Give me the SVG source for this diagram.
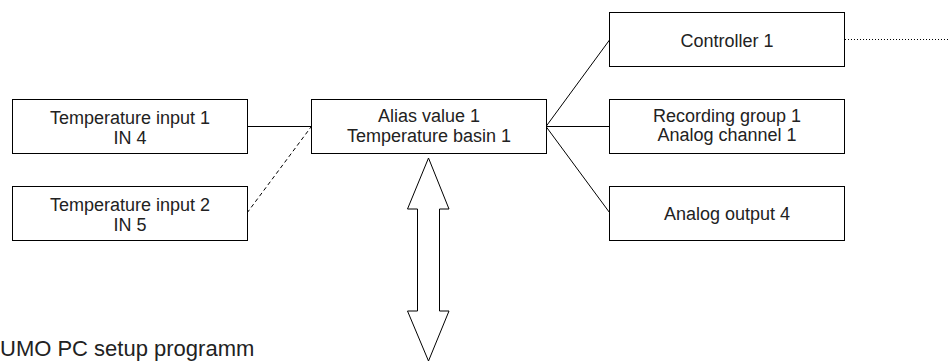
<svg xmlns="http://www.w3.org/2000/svg" width="949" height="363" viewBox="0 0 949 363">
<style>
.box{fill:#fff;stroke:#000;stroke-width:1}
.t{font-family:"Liberation Sans",Arial,sans-serif;font-size:18px;fill:#222;text-anchor:middle}
.c{stroke:#000;stroke-width:1;fill:none}
</style>
<rect width="949" height="363" fill="#fff"/>
<g id="connectors">
<line class="c" x1="247" y1="126.5" x2="311" y2="126.5"/>
<line class="c" x1="247" y1="213" x2="311" y2="127" stroke-dasharray="4,3"/>
<line class="c" x1="546" y1="126.5" x2="609.5" y2="40"/>
<line class="c" x1="546" y1="126.5" x2="609.5" y2="126.5"/>
<line class="c" x1="546" y1="126.5" x2="609.5" y2="212.5"/>
<line class="c" x1="845" y1="39.5" x2="949" y2="39.5" stroke-dasharray="1,2"/>
<polygon id="double-arrow" class="c" points="428.5,158 449,209 439.5,209 439.5,311 449,311 428.5,361 407.5,311 417.5,311 417.5,209 407.5,209"/>
</g>
<g id="temp-input-1">
<rect class="box" x="12.5" y="99.5" width="235" height="54"/>
<text class="t" x="130" y="124">Temperature input 1</text>
<text class="t" x="130" y="144">IN 4</text>
</g>
<g id="temp-input-2">
<rect class="box" x="12.5" y="186.5" width="235" height="54"/>
<text class="t" x="130" y="211">Temperature input 2</text>
<text class="t" x="130" y="231">IN 5</text>
</g>
<g id="alias-value">
<rect class="box" x="311.5" y="99.5" width="235" height="54"/>
<text class="t" x="429" y="122">Alias value 1</text>
<text class="t" x="429" y="142">Temperature basin 1</text>
</g>
<g id="controller">
<rect class="box" x="609.5" y="12.5" width="235" height="54"/>
<text class="t" x="727" y="46.5">Controller 1</text>
</g>
<g id="recording-group">
<rect class="box" x="609.5" y="99.5" width="235" height="54"/>
<text class="t" x="727" y="121.5">Recording group 1</text>
<text class="t" x="727" y="141">Analog channel 1</text>
</g>
<g id="analog-output">
<rect class="box" x="609.5" y="186.5" width="235" height="54"/>
<text class="t" x="727" y="219.5">Analog output 4</text>
</g>
<text class="t" x="0" y="355.5" style="text-anchor:start;font-size:22px">UMO PC setup programm</text>
</svg>
